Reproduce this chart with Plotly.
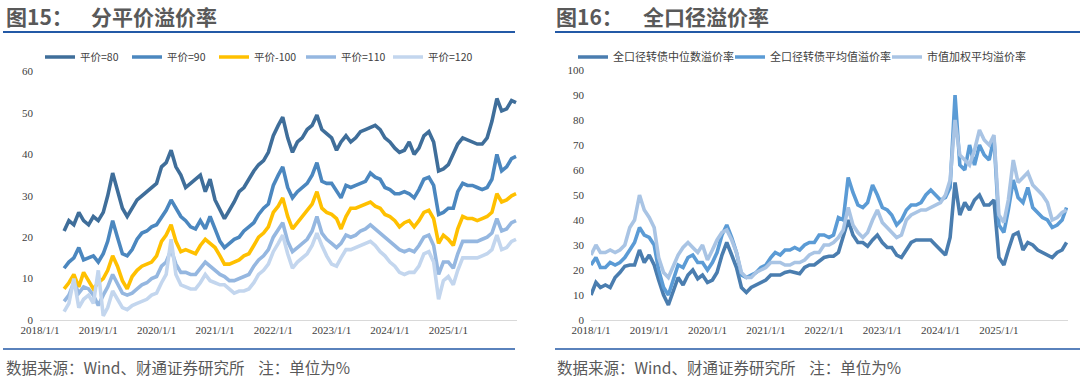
import plotly.graph_objects as go
import pandas as pd

# ---------------- data ----------------
left_dates = pd.date_range("2018-06-01", "2026-03-01", freq="MS")
right_dates = pd.date_range("2018-01-01", "2026-03-01", freq="MS")
year_ticks = ["2018-01-01", "2019-01-01", "2020-01-01", "2021-01-01",
              "2022-01-01", "2023-01-01", "2024-01-01", "2025-01-01"]
year_labels = ["2018/1/1", "2019/1/1", "2020/1/1", "2021/1/1",
               "2022/1/1", "2023/1/1", "2024/1/1", "2025/1/1"]

left_names = ["平价=80", "平价=90", "平价-100", "平价=110", "平价=120"]
p80 = [21.5, 24, 23, 26, 24, 23, 25,
       24, 26, 30, 35.5, 31, 27, 25, 27, 29, 30, 31, 32,
       33, 37, 38, 41, 37, 35, 32, 33, 34, 35, 31, 34,
       29, 26.5, 24.5, 26.5, 28.5, 31, 32, 34, 36, 37.5, 38.5, 40.5,
       44.5, 47, 49, 44, 40.5, 43, 44, 46, 47, 49.5, 46, 45,
       44, 41, 43, 44.5, 43, 44, 45.5, 46, 46.5, 47, 46, 44,
       43, 41.5, 40.5, 41, 43, 40, 41.5, 44.5, 45.5, 43, 36, 36.5,
       37.5, 40, 42.5, 44, 43.5, 43, 42.5, 42.5, 44, 48, 53.5, 50.5,
       51, 53, 52.5]
p90 = [12.5, 14, 15, 17.5, 14.5, 15, 15.5,
       14, 16, 19, 24, 20, 16, 15.5, 17, 19.5, 21, 21.5, 22.5,
       23, 25, 26.5, 29, 27, 25, 24, 22.5, 22, 24, 22, 25,
       22, 19, 17.5, 18.5, 19.5, 20, 21.5, 22.5, 23.5, 25.5, 27, 28,
       32.5, 35, 37, 32, 29.5, 31, 32, 33, 35, 38, 33.5, 33,
       33, 31, 29.5, 32.5, 32, 32.5, 33, 33.5, 35.5, 34.5, 34, 32,
       31.5, 30.5, 30.5, 31, 30.5, 29.5, 31.5, 34, 34.5, 32.5, 25.5, 26,
       27, 27, 31, 33, 32.5, 32.5, 32, 31.5, 32, 34, 40, 36,
       37, 39, 39.5]
p100 = [7.5, 9, 11, 8, 11.5, 9.5, 7.5,
        9, 10, 12, 15.5, 13, 9.5, 7.5, 10.5, 12, 13, 13.5, 14,
        15.5, 19, 20.5, 23, 19, 16.5, 17, 16.5, 16, 18, 19.5, 18.5,
        17.5, 15.5, 13.5, 13.5, 14, 14.5, 15.5, 16, 18, 20, 21, 22.5,
        26, 27.5, 29.5, 25, 22, 23.5, 25, 26.5, 28, 31, 27, 26,
        25.5, 24.5, 22, 25, 27, 27, 27.5, 28, 28.5, 27.5, 27, 25.5,
        25, 24, 22.5, 23.5, 24, 22.5, 24, 26, 26.5, 24.5, 18.5, 20.5,
        19.5, 18, 22, 25, 24.5, 24.5, 24, 24.5, 25, 26, 30.5, 28.5,
        29, 30, 30.5]
p110 = [4.5, 6, 9, 6.5, 8, 7.5, 6,
        3.5, 6, 8, 11, 9, 6.5, 6, 6.5, 7.5, 8.5, 9, 10,
        10.5, 13, 14, 17, 13.5, 11.5, 11.5, 11, 11, 12.5, 14, 13,
        12, 11, 10.5, 9.5, 9.5, 10, 10.5, 11, 13, 14.5, 15.5, 17,
        20, 22, 23.5, 19, 16.5, 17.5, 18.5, 19.5, 21.5, 25, 21, 19.5,
        18.5, 17.5, 18.5, 20.5, 20, 20.5, 21.5, 22, 23, 22, 21, 20,
        19, 18, 17, 16.5, 17, 16.5, 18, 20, 20.5, 18, 11, 14,
        14, 12.5, 16, 19, 19, 19, 19, 19.5, 20, 21, 24.5, 21.5,
        22, 23.5, 24]
p120 = [2, 4, 10, 3, 5, 6, 4,
        12, 1, 3, 7, 5, 3, 2.5, 3.5, 4, 4.5, 5, 6,
        6.5, 9, 11, 19.5, 11, 8.5, 8, 7.5, 7.5, 9, 11, 9.5,
        9, 8.5, 8.5, 7.5, 6.5, 7, 7, 7.5, 9, 11, 12, 13.5,
        16.5, 18.5, 20.5, 16, 12.5, 14, 15, 16, 18, 21, 18, 15.5,
        13.5, 13, 15, 17, 17, 17.5, 18, 18.5, 19, 18, 16.5, 15.5,
        14, 13, 11.5, 11, 11.5, 11.5, 13, 16, 16.5, 14, 5, 9.5,
        10.5, 8.5, 12, 15, 15, 15, 15, 15.5, 16, 17, 20.5, 17,
        17.5, 19, 19.5]

right_names = ["全口径转债中位数溢价率", "全口径转债平均值溢价率", "市值加权平均溢价率"]
median_prem = [10, 15, 13, 14, 13, 17, 19, 21.5, 22, 22, 28, 23,
               26, 22, 16, 10, 6, 12, 17, 14, 18, 20, 16.5, 18,
               15, 16, 19, 26, 31, 26, 21, 13, 11, 13, 14, 15,
               16, 18, 18, 18, 19, 19.5, 19, 18.5, 21, 22, 22, 23.5,
               25, 25.5, 25.5, 27, 33, 40, 34, 31, 31, 29.5, 32, 34,
               31, 29, 29, 26, 25, 28, 31, 32, 32, 32, 32, 30,
               28, 26, 33, 55, 42, 47, 44, 48, 50, 46, 46, 48,
               25, 22, 28, 34, 35, 28, 31, 30, 28, 27, 26, 25,
               27, 28, 31]
mean_prem = [22, 25, 21, 21, 23, 22, 23, 25, 28, 31, 37, 34,
             33, 30, 20, 13, 10, 16, 22, 21, 25, 26, 23, 23,
             20, 23, 27, 34, 38, 33, 27, 18, 17, 18, 19, 21,
             22, 25, 27, 26, 28, 28, 29, 28, 30, 31, 31, 34,
             34, 33, 34, 41, 40, 57, 51, 46, 45, 47, 54, 50,
             45, 44, 42, 38, 40, 44, 46, 46, 47, 50, 52, 50,
             48, 49, 53, 90, 62, 60, 70, 62, 70, 66, 64, 73,
             38, 35, 44, 56, 49, 47, 53, 45, 43, 41, 40, 37,
             38, 40, 45]
wtd_prem = [26, 30, 27, 27, 28, 27, 28, 30, 37, 40, 50, 44,
            41, 37, 25, 19, 17, 22, 26, 29, 31, 29, 27, 30,
            24, 28, 32, 35, 36, 32, 27, 19, 17, 17, 19, 20,
            21, 23, 23, 23, 22, 22, 23, 23, 24, 26, 27, 27,
            30, 30, 31, 33, 36, 45, 38, 35, 33, 35, 40, 44,
            39, 37, 35, 33, 34, 40, 42, 43, 44, 44, 45, 46,
            47, 50, 56, 80, 66, 64, 62, 68, 76, 72, 70, 74,
            42, 39, 48, 64, 55, 57, 59, 54, 52, 50, 47, 40,
            41, 43, 44]

left_colors = ["#3F6E9A", "#4B87BF", "#FFC000", "#95B7E0", "#C3D6EE"]
right_colors = ["#4A7DAF", "#5B9BD5", "#A9C4E4"]

# ---------------- figure ----------------
W, H = 1080, 378
def fx(x):
    return x / W
def fy(y):
    return 1 - y / H

fig = go.Figure()
for name, vals, col in zip(left_names, [p80, p90, p100, p110, p120], left_colors):
    fig.add_trace(go.Scatter(x=left_dates, y=vals, name=name, mode="lines",
                             line=dict(color=col, width=3.6),
                             xaxis="x", yaxis="y", legend="legend"))
for name, vals, col in zip(right_names, [median_prem, mean_prem, wtd_prem], right_colors):
    fig.add_trace(go.Scatter(x=right_dates, y=vals, name=name, mode="lines",
                             line=dict(color=col, width=3.6),
                             xaxis="x2", yaxis="y2", legend="legend2"))

tickfont = dict(family="Liberation Serif", size=11, color="#404040")
xcommon = dict(type="date", tickvals=year_ticks, ticktext=year_labels, showgrid=False,
               zeroline=False, showline=True, linecolor="#D9D9D9", linewidth=1,
               ticks="", tickfont=tickfont, fixedrange=True, automargin=False,
               ticklabelstandoff=0)
ycommon = dict(showgrid=False, zeroline=False, showline=False, ticks="", dtick=10,
               tickfont=tickfont, ticklabelstandoff=6, automargin=False, fixedrange=True)

fig.update_layout(
    width=W, height=H, margin=dict(l=0, r=0, t=0, b=0, autoexpand=False),
    paper_bgcolor="white", plot_bgcolor="white",
    xaxis=dict(domain=[fx(40), fx(517)], range=["2018-01-01", "2026-03-07"], anchor="y", **xcommon),
    yaxis=dict(domain=[fy(320), fy(71.6)], range=[0, 60], anchor="x", **ycommon),
    xaxis2=dict(domain=[fx(591), fx(1068)], range=["2018-01-01", "2026-03-10"], anchor="y2", **xcommon),
    yaxis2=dict(domain=[fy(320), fy(70)], range=[0, 100], anchor="x2", **ycommon),
    legend=dict(orientation="h", x=fx(40), y=fy(57), xanchor="left", yanchor="middle",
                font=dict(family="Noto Sans CJK SC", size=10.5, color="#404040"),
                bgcolor="rgba(0,0,0,0)", itemwidth=30, entrywidth=42, tracegroupgap=0),
    legend2=dict(orientation="h", x=fx(573), y=fy(57), xanchor="left", yanchor="middle",
                 font=dict(family="Noto Sans CJK SC", size=11, color="#404040"),
                 bgcolor="rgba(0,0,0,0)", itemwidth=30, entrywidth=112, tracegroupgap=0),
    showlegend=True,
)

title_font = dict(family="Noto Sans CJK SC", size=21, color="#595959", weight="bold")
src_font = dict(family="Noto Sans CJK SC", size=15.5, color="#595959")
annos = [
    dict(text="图15：", x=fx(4), y=fy(16)),
    dict(text="分平价溢价率", x=fx(89), y=fy(16)),
    dict(text="图16：", x=fx(554), y=fy(16)),
    dict(text="全口径溢价率", x=fx(641), y=fy(16)),
]
for a in annos:
    fig.add_annotation(xref="paper", yref="paper", xanchor="left", yanchor="middle",
                       showarrow=False, font=title_font, **a)
for x0 in (4, 555):
    fig.add_annotation(xref="paper", yref="paper", xanchor="left", yanchor="middle",
                       showarrow=False, font=src_font, x=fx(x0), y=fy(367),
                       text="数据来源：Wind、财通证券研究所    注：单位为%")

line_col = "#2359A6"
for (x0, x1) in ((3, 515), (555, 1080)):
    fig.add_shape(type="line", xref="paper", yref="paper", x0=fx(x0), x1=fx(x1),
                  y0=fy(32), y1=fy(32), line=dict(color=line_col, width=2))
    fig.add_shape(type="line", xref="paper", yref="paper", x0=fx(x0), x1=fx(x1),
                  y0=fy(349), y1=fy(349), line=dict(color=line_col, width=1.5))

fig.write_html("out.html", config={"displayModeBar": False},
               post_script="document.body.style.margin='0';document.body.style.overflow='hidden';")
